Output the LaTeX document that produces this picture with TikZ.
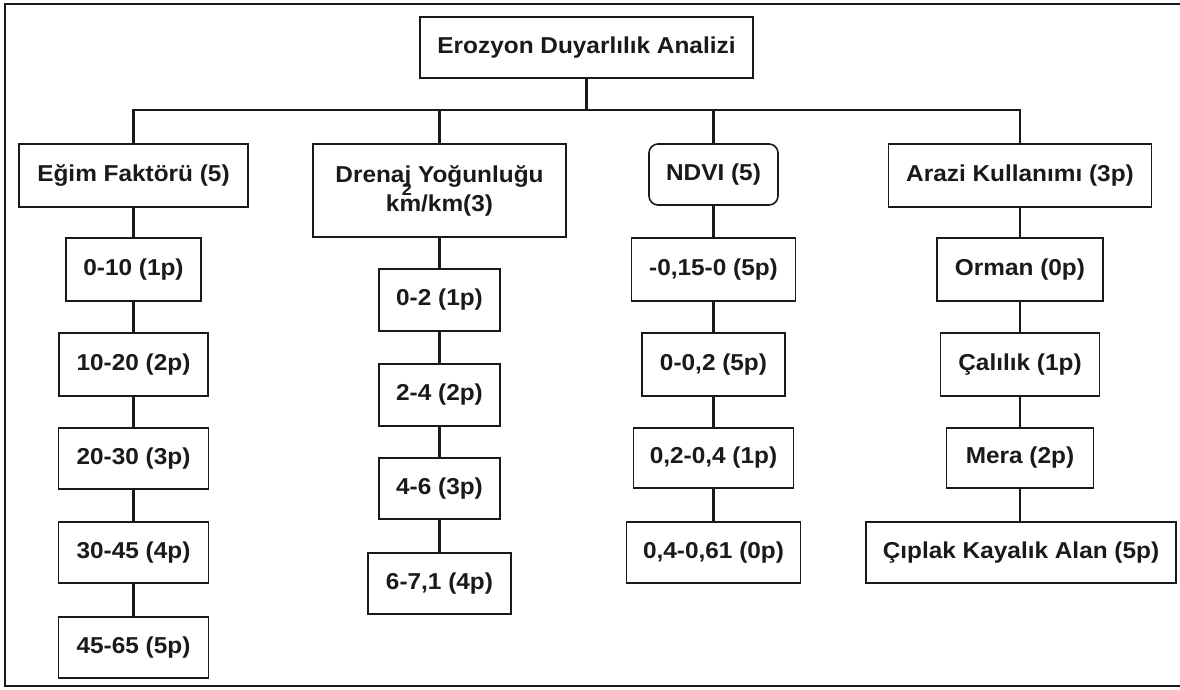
\documentclass[tikz,border=0pt]{standalone}
\usepackage{fontspec}
\setmainfont{Liberation Sans}[FakeStretch=1.06]
\newcommand\boxfont{\fontsize{23}{29}\selectfont\bfseries}
\newcommand\supfont{\fontsize{17}{17}\selectfont\bfseries}
\definecolor{ink}{HTML}{1A1A1A}
\tikzset{
  box/.style={draw=ink, line width=1.6pt, fill=white, inner sep=0pt, font=\boxfont, text=ink, align=center},
  link/.style={draw=ink, line width=2.4pt},
  frame/.style={draw=ink, line width=2.6pt}
}
\begin{document}
\begin{tikzpicture}[x=1pt,y=1pt]
\useasboundingbox (0,0) rectangle (1180,-690);
\fill[white] (0,0) rectangle (1180,-690);
\draw[frame] (1180,-4) -- (5,-4) -- (5,-686) -- (1180,-686);

% top
\node[box, minimum width=333, minimum height=61] (top) at (586.5,-47.5) {Erozyon Duyarlılık Analizi};

% level 1
\node[box, minimum width=229, minimum height=63] (egim) at (133.5,-175.5) {Eğim Faktörü (5)};
\node[box, minimum width=253, minimum height=93] (dren) at (439.5,-190.5) {Drenaj Yoğunluğu\\km/km(3)};
\node[font=\supfont, text=ink, inner sep=0pt] (sup) at (407,-190) {2};
\node[box, rounded corners=9pt, minimum width=129, minimum height=61] (ndvi) at (713.5,-174.5) {NDVI (5)};
\node[box, minimum width=263, minimum height=63] (arazi) at (1020,-175.5) {Arazi Kullanımı (3p)};

% bus
\coordinate (busL) at (133.5,-110);
\coordinate (busR) at (1020,-110);
\draw[link] (top.south) -- (top.south |- busL);
\draw[link] (egim.north) -- (busL) -- (busR) -- (arazi.north);
\draw[link] (dren.north) -- (dren.north |- busL);
\draw[link] (ndvi.north) -- (ndvi.north |- busL);

% Eğim children
\node[box, minimum width=135, minimum height=63] (e1) at (133.5,-269.5) {0-10 (1p)};
\node[box, minimum width=149, minimum height=63] (e2) at (133.5,-364.5) {10-20 (2p)};
\node[box, minimum width=150, minimum height=61] (e3) at (133.5,-458.5) {20-30 (3p)};
\node[box, minimum width=150, minimum height=61] (e4) at (133.5,-552.5) {30-45 (4p)};
\node[box, minimum width=150, minimum height=61] (e5) at (133.5,-647.5) {45-65 (5p)};
\draw[link] (egim.south) -- (e1.north);
\draw[link] (e1.south) -- (e2.north);
\draw[link] (e2.south) -- (e3.north);
\draw[link] (e3.south) -- (e4.north);
\draw[link] (e4.south) -- (e5.north);

% Drenaj children
\node[box, minimum width=121, minimum height=62] (d1) at (439.5,-300) {0-2 (1p)};
\node[box, minimum width=121, minimum height=62] (d2) at (439.5,-395) {2-4 (2p)};
\node[box, minimum width=121, minimum height=61] (d3) at (439.5,-488.5) {4-6 (3p)};
\node[box, minimum width=143, minimum height=61] (d4) at (439.5,-583.5) {6-7,1 (4p)};
\draw[link] (dren.south) -- (d1.north);
\draw[link] (d1.south) -- (d2.north);
\draw[link] (d2.south) -- (d3.north);
\draw[link] (d3.south) -- (d4.north);

% NDVI children
\node[box, minimum width=164, minimum height=63] (n1) at (713.5,-269.5) {-0,15-0 (5p)};
\node[box, minimum width=143, minimum height=63] (n2) at (713.5,-364.5) {0-0,2 (5p)};
\node[box, minimum width=160, minimum height=60] (n3) at (713.5,-458) {0,2-0,4 (1p)};
\node[box, minimum width=174, minimum height=61] (n4) at (713.5,-552.5) {0,4-0,61 (0p)};
\draw[link] (ndvi.south) -- (n1.north);
\draw[link] (n1.south) -- (n2.north);
\draw[link] (n2.south) -- (n3.north);
\draw[link] (n3.south) -- (n4.north);

% Arazi children
\node[box, minimum width=166, minimum height=63] (a1) at (1020,-269.5) {Orman (0p)};
\node[box, minimum width=159, minimum height=63] (a2) at (1020,-364.5) {Çalılık (1p)};
\node[box, minimum width=147, minimum height=60] (a3) at (1020,-458) {Mera (2p)};
\node[box, minimum width=310, minimum height=61] (a4) at (1021,-552.5) {Çıplak Kayalık Alan (5p)};
\draw[link] (arazi.south) -- (a1.north);
\draw[link] (a1.south) -- (a2.north);
\draw[link] (a2.south) -- (a3.north);
\draw[link] (a3.south) -- (a3.south |- a4.north);
\end{tikzpicture}
\end{document}
